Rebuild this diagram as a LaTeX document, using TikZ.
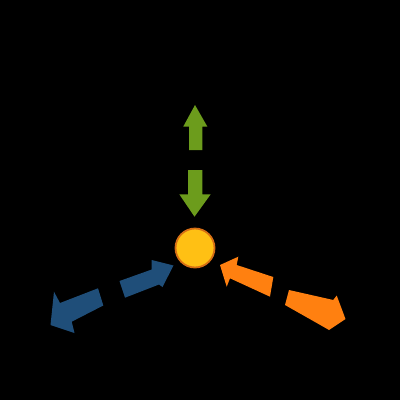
\documentclass[tikz,border=0pt]{standalone}
\definecolor{gr}{RGB}{108,156,28}
\definecolor{bl}{RGB}{31,78,121}
\definecolor{org}{RGB}{255,128,16}
\definecolor{sun}{RGB}{255,192,20}
\definecolor{sunedge}{RGB}{214,110,20}
\tikzset{
  garrow/.style={fill=gr},
  barrow/.style={fill=bl},
  oarrow/.style={fill=org},
}
\begin{document}
\begin{tikzpicture}[x=1pt,y=-1pt]
\fill[black] (0,0) rectangle (400,400);
\useasboundingbox (0,0) rectangle (400,400);
\node[circle, fill=sun, draw=sunedge, line width=1.8pt, minimum size=39pt, inner sep=0pt] (sun) at (195,248) {};
% green up
\fill[garrow] (189,150) -- (189,126.5) -- (183.3,126.5) -- (195,105) -- (207.3,126.5) -- (202.3,126.5) -- (202.3,150) -- cycle;
% green down
\fill[garrow] (188,170) -- (188,194.3) -- (179.3,194.3) -- (194.5,216.7) -- (210.7,194.3) -- (202.3,194.3) -- (202.3,170) -- cycle;
% blue toward sun
\fill[barrow] (119.5,281) -- (151.7,269.5) -- (151.7,260) -- (173.5,265.5) -- (162.5,287) -- (159,284.5) -- (125,297.7) -- cycle;
% blue outward
\fill[barrow] (98,288.3) -- (60,303) -- (54,291.7) -- (50.5,325) -- (74.5,333) -- (71.7,321.7) -- (103.3,305.5) -- cycle;
% orange toward sun
\fill[oarrow] (220,265) -- (238.3,256.7) -- (236.7,265) -- (273.3,277) -- (270,296.7) -- (230,278.3) -- (226.7,286.7) -- cycle;
% orange outward
\fill[oarrow] (289,290) -- (333.3,300) -- (336.7,295.5) -- (345.5,319) -- (329,330) -- (323.3,326.7) -- (285,305) -- cycle;
\end{tikzpicture}
\end{document}
